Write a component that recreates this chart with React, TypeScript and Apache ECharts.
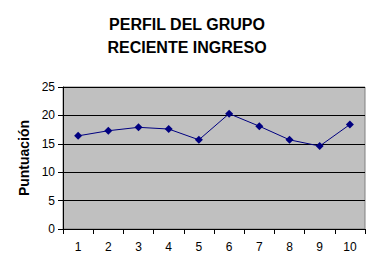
import React, { useEffect, useRef } from "react";
import * as echarts from "echarts";

const categories = ["1", "2", "3", "4", "5", "6", "7", "8", "9", "10"];
const puntuacion = [16.4, 17.3, 17.9, 17.6, 15.7, 20.3, 18.1, 15.7, 14.6, 18.4];
const titleLines = ["PERFIL DEL GRUPO", "RECIENTE INGRESO"];
const yAxisName = "Puntuación";

const FONT = "'Liberation Sans', Arial, sans-serif";

export default function App() {
  const ref = useRef<HTMLDivElement>(null);

  useEffect(() => {
    if (!ref.current) return;
    const chart = echarts.init(ref.current, undefined, { renderer: "svg" });
    chart.setOption({
      animation: false,
      backgroundColor: "#ffffff",
      title: {
        text: titleLines.join("\n"),
        left: "center",
        top: 8,
        textStyle: {
          fontFamily: FONT,
          fontSize: 16,
          fontWeight: "bold",
          color: "#000000",
          lineHeight: 23,
        },
      },
      grid: {
        left: 63,
        right: 9,
        top: 87,
        bottom: 43,
        show: true,
        backgroundColor: "#C0C0C0",
        borderColor: "#808080",
        borderWidth: 1,
      },
      xAxis: {
        type: "category",
        data: categories,
        boundaryGap: true,
        axisLine: { lineStyle: { color: "#000000", width: 1 } },
        axisTick: { show: true, inside: false, length: 5, lineStyle: { color: "#000000" } },
        axisLabel: { fontFamily: FONT, fontSize: 12, color: "#000000", margin: 12 },
        splitLine: { show: false },
      },
      yAxis: {
        type: "value",
        min: 0,
        max: 25,
        interval: 5,
        name: yAxisName,
        nameLocation: "middle",
        nameGap: 32,
        nameTextStyle: { fontFamily: FONT, fontSize: 14, fontWeight: "bold", color: "#000000" },
        axisLine: { show: true, lineStyle: { color: "#000000", width: 1 } },
        axisTick: { show: true, inside: false, length: 5, lineStyle: { color: "#000000" } },
        axisLabel: { fontFamily: FONT, fontSize: 12, color: "#000000", margin: 8 },
        splitLine: { show: true, lineStyle: { color: "#000000", width: 1 } },
      },
      series: [
        {
          type: "line",
          data: puntuacion,
          symbol: "diamond",
          symbolSize: 8,
          lineStyle: { color: "#000080", width: 1 },
          itemStyle: { color: "#000080" },
        },
      ],
    });
    return () => chart.dispose();
  }, []);

  return <div ref={ref} style={{ width: 374, height: 272, position: "absolute", left: 0, top: 0 }} />;
}
